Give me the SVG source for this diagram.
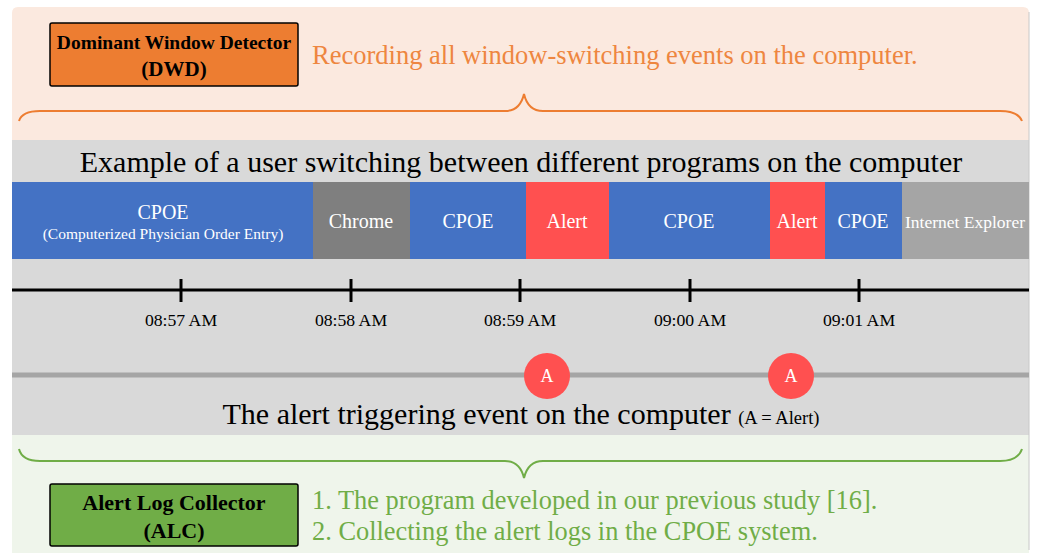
<svg xmlns="http://www.w3.org/2000/svg" width="1037" height="554" viewBox="0 0 1037 554">
<defs>
<style>
.serif{font-family:"Liberation Serif","Times New Roman",serif;}
.seg{stroke:none;}
.segt{font-family:"Liberation Serif",serif;fill:#ffffff;text-anchor:middle;}
.tick{stroke:#000;stroke-width:3;}
.tl{font-family:"Liberation Serif",serif;font-size:17.7px;fill:#000;text-anchor:middle;}
.box{stroke:#000;stroke-width:1.5;}
.boxt{font-family:"Liberation Serif",serif;font-weight:bold;fill:#000;text-anchor:middle;}
.at{font-family:"Liberation Serif",serif;font-size:18px;fill:#fff;text-anchor:middle;}
</style>
</defs>
<rect width="1037" height="554" fill="#ffffff"/>
<g id="background">
<path d="M12,140 L12,13 Q12,7 18,7 L1023,7 Q1029,7 1029,13 L1029,140 Z" fill="#FBE9DF"/>
<rect x="12" y="140" width="1017" height="295" fill="#D9D9D9"/>
<rect x="12" y="435" width="1017" height="118" fill="#EFF5EB"/>
<line x1="1029" y1="12" x2="1029" y2="550" stroke="#C8C8C8" stroke-width="1"/>
</g>
<g id="dwd">
<rect class="box" x="50" y="23" width="248" height="63" rx="2" fill="#ED7D31"/>
<text class="boxt" x="174" y="49" font-size="19.5">Dominant Window Detector</text>
<text class="boxt" x="174" y="76" font-size="21">(DWD)</text>
</g>
<text id="dwd-desc" class="serif" x="312" y="64" font-size="26.5" fill="#EE8640">Recording all window-switching events on the computer.</text>
<g id="connectors">
<path id="brace-top" d="M19,121 Q22,111 40,111 L505,111 Q520,111 524,94 Q528,111 543,111 L1000,111 Q1018,111 1022,121" fill="none" stroke="#ED7D31" stroke-width="2"/>
<path id="brace-bottom" d="M19,449 Q22,461 40,461 L505,461 Q520,461 524,478 Q528,461 543,461 L1000,461 Q1018,461 1022,449" fill="none" stroke="#70AD47" stroke-width="2"/>
</g>
<text id="title" class="serif" x="521" y="172" font-size="30" fill="#000" text-anchor="middle">Example of a user switching between different programs on the computer</text>
<g id="programs">
<rect class="seg" x="12" y="182" width="301" height="77" fill="#4472C4"/>
<rect class="seg" x="313" y="182" width="97" height="77" fill="#7F7F7F"/>
<rect class="seg" x="410" y="182" width="116" height="77" fill="#4472C4"/>
<rect class="seg" x="526" y="182" width="83" height="77" fill="#FF5050"/>
<rect class="seg" x="609" y="182" width="161" height="77" fill="#4472C4"/>
<rect class="seg" x="770" y="182" width="55" height="77" fill="#FF5050"/>
<rect class="seg" x="825" y="182" width="77" height="77" fill="#4472C4"/>
<rect class="seg" x="902" y="182" width="127" height="77" fill="#A5A5A5"/>
<text class="segt" x="163" y="219" font-size="20">CPOE</text>
<text class="segt" x="163" y="239" font-size="15.5">(Computerized Physician Order Entry)</text>
<text class="segt" x="361" y="228" font-size="20">Chrome</text>
<text class="segt" x="468" y="228" font-size="20">CPOE</text>
<text class="segt" x="567" y="228" font-size="20">Alert</text>
<text class="segt" x="689" y="228" font-size="20">CPOE</text>
<text class="segt" x="797" y="228" font-size="20">Alert</text>
<text class="segt" x="863" y="228" font-size="20">CPOE</text>
<text class="segt" x="965" y="228" font-size="17.5">Internet Explorer</text>
</g>
<g id="timeline">
<line x1="12" y1="290" x2="1029" y2="290" stroke="#000" stroke-width="3"/>
<line class="tick" x1="181" y1="279" x2="181" y2="302"/>
<line class="tick" x1="351" y1="279" x2="351" y2="302"/>
<line class="tick" x1="520" y1="279" x2="520" y2="302"/>
<line class="tick" x1="690" y1="279" x2="690" y2="302"/>
<line class="tick" x1="859" y1="279" x2="859" y2="302"/>
<text class="tl" x="181" y="326">08:57 AM</text>
<text class="tl" x="351" y="326">08:58 AM</text>
<text class="tl" x="520" y="326">08:59 AM</text>
<text class="tl" x="690" y="326">09:00 AM</text>
<text class="tl" x="859" y="326">09:01 AM</text>
</g>
<g id="alerts">
<line x1="12" y1="375" x2="1029" y2="375" stroke="#A5A5A5" stroke-width="5"/>
<g id="alert-a1">
<circle cx="547" cy="376" r="23" fill="#FF5050"/>
<text class="at" x="547" y="382">A</text>
</g>
<g id="alert-a2">
<circle cx="791" cy="376" r="23" fill="#FF5050"/>
<text class="at" x="791" y="382">A</text>
</g>
</g>
<text id="alert-title" class="serif" x="521" y="424" font-size="30" fill="#000" text-anchor="middle">The alert triggering event on the computer <tspan font-size="18.5">(A = Alert)</tspan></text>
<g id="alc">
<rect class="box" x="50" y="484" width="248" height="62" rx="2" fill="#70AD47"/>
<text class="boxt" x="174" y="510" font-size="22">Alert Log Collector</text>
<text class="boxt" x="174" y="538" font-size="22">(ALC)</text>
</g>
<g id="alc-desc" class="serif" font-size="26.4" fill="#70AD47">
<text x="312" y="509">1. The program developed in our previous study [16].</text>
<text x="312" y="540">2. Collecting the alert logs in the CPOE system.</text>
</g>
</svg>
